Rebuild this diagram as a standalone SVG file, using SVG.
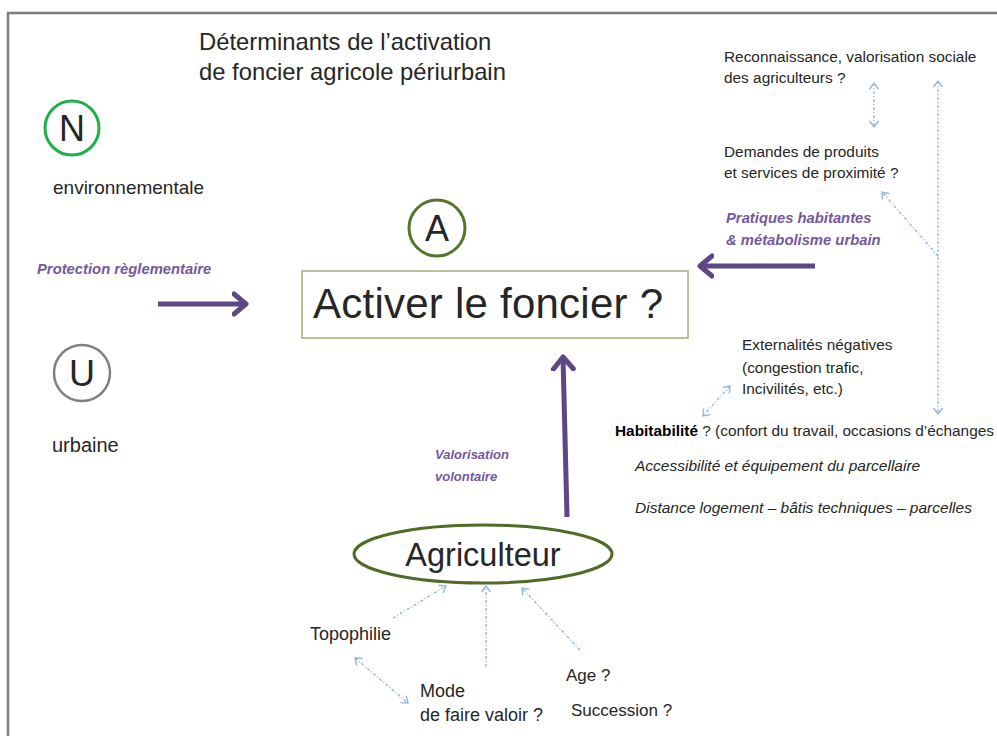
<svg xmlns="http://www.w3.org/2000/svg" width="997" height="736" viewBox="0 0 997 736">
<defs>
<style>
text{font-family:"Liberation Sans",Arial,sans-serif;fill:#262626}
.r{font-size:15.4px}
.b{font-size:18px}
.pur{fill:#7458a0;font-weight:bold;font-style:italic;font-size:14.8px}
.it{font-style:italic;font-size:15.5px}
.big{stroke:#5e4687;stroke-width:5;fill:none}
.dot{stroke:#8fb2e0;stroke-width:1.3;fill:none;stroke-dasharray:3 2 1 2}
</style>
<marker id="ph" markerUnits="userSpaceOnUse" markerWidth="30" markerHeight="30" refX="14" refY="12" orient="auto" viewBox="0 0 30 24">
<path d="M2 2 L14 12 L2 22" fill="none" stroke="#5e4687" stroke-width="5" stroke-linecap="round" stroke-linejoin="round"/>
</marker>
<marker id="bh" markerUnits="userSpaceOnUse" markerWidth="12" markerHeight="12" refX="8" refY="6" orient="auto-start-reverse" viewBox="0 0 12 12">
<path d="M2 1.5 L8 6 L2 10.5" fill="none" stroke="#8fb2e0" stroke-width="1.3"/>
</marker>
</defs>
<rect width="997" height="736" fill="#fff"/>
<path d="M8 736 V13 H997" fill="none" stroke="#7f7f7f" stroke-width="2.5"/>

<g id="title">
<text x="199" y="50" style="font-size:23.8px">Déterminants de l’activation</text>
<text x="199" y="80" style="font-size:23.8px">de foncier agricole périurbain</text>
</g>

<g id="connectors">
<line class="big" x1="158" y1="304" x2="246" y2="304" marker-end="url(#ph)"/>
<line class="big" x1="815" y1="266" x2="700" y2="266" marker-end="url(#ph)"/>
<line class="big" x1="567" y1="517" x2="563" y2="357" marker-end="url(#ph)"/>
<line class="dot" x1="393" y1="618" x2="446" y2="586" marker-end="url(#bh)"/>
<line class="dot" x1="486" y1="667" x2="486" y2="586" marker-end="url(#bh)"/>
<line class="dot" x1="580" y1="650" x2="522" y2="588" marker-end="url(#bh)"/>
<line class="dot" x1="355" y1="658" x2="408" y2="703" marker-start="url(#bh)" marker-end="url(#bh)"/>
<line class="dot" x1="874" y1="83" x2="874" y2="127" marker-start="url(#bh)" marker-end="url(#bh)"/>
<line class="dot" x1="938" y1="81" x2="938" y2="414" marker-start="url(#bh)" marker-end="url(#bh)"/>
<line class="dot" x1="938" y1="256" x2="882" y2="192" marker-end="url(#bh)"/>
<line class="dot" x1="730" y1="386" x2="703" y2="416" marker-start="url(#bh)" marker-end="url(#bh)"/>
</g>

<g id="node-N">
<circle cx="72" cy="128" r="27" fill="none" stroke="#21b14b" stroke-width="3"/>
<text x="72" y="141" text-anchor="middle" style="font-size:36px" fill="#000">N</text>
</g>
<g id="label-env"><text x="53" y="194" style="font-size:19px">environnementale</text></g>

<g id="node-A">
<circle cx="437" cy="228" r="28" fill="none" stroke="#56752b" stroke-width="3"/>
<text x="437" y="241" text-anchor="middle" style="font-size:36px" fill="#000">A</text>
</g>

<g id="node-U">
<circle cx="82" cy="373" r="28" fill="none" stroke="#808080" stroke-width="2.5"/>
<text x="82" y="386" text-anchor="middle" style="font-size:36px" fill="#000">U</text>
</g>
<g id="label-urb"><text x="52" y="452" style="font-size:20px">urbaine</text></g>

<g id="label-protection"><text class="pur" x="37" y="274">Protection  règlementaire</text></g>

<g id="node-activer">
<rect x="302" y="271" width="386" height="67" fill="#fff" stroke="#9fae78" stroke-width="1.5"/>
<text x="313" y="318" style="font-size:42px" fill="#000" textLength="350">Activer le foncier ?</text>
</g>

<g id="label-valorisation">
<text class="pur" x="435" y="459" style="font-size:13px">Valorisation</text>
<text class="pur" x="435" y="481" style="font-size:13px">volontaire</text>
</g>

<g id="node-agriculteur">
<ellipse cx="483" cy="554" rx="129" ry="29" fill="none" stroke="#4f6b26" stroke-width="3"/>
<text x="483" y="566" text-anchor="middle" style="font-size:32.5px" fill="#000">Agriculteur</text>
</g>

<g id="node-topophilie"><text class="b" x="310" y="640">Topophilie</text></g>
<g id="node-mode">
<text class="b" x="420" y="697">Mode</text>
<text class="b" x="420" y="721">de faire valoir ?</text>
</g>
<g id="node-age"><text class="b" x="566" y="681" style="font-size:17px">Age ?</text></g>
<g id="node-succession"><text class="b" x="571" y="716" style="font-size:17px">Succession ?</text></g>

<g id="node-reconnaissance">
<text class="r" x="724" y="62">Reconnaissance,  valorisation sociale</text>
<text class="r" x="724" y="83">des agriculteurs ?</text>
</g>
<g id="node-demandes">
<text class="r" x="724" y="157">Demandes de produits</text>
<text class="r" x="724" y="178">et services de proximité ?</text>
</g>
<g id="label-pratiques">
<text class="pur" x="726" y="223">Pratiques  habitantes</text>
<text class="pur" x="726" y="245">&amp; métabolisme  urbain</text>
</g>
<g id="node-externalites">
<text class="r" x="742" y="350">Externalités  négatives</text>
<text class="r" x="742" y="373">(congestion trafic,</text>
<text class="r" x="742" y="394">Incivilités, etc.)</text>
</g>
<g id="node-habitabilite">
<text class="r" x="615" y="436"><tspan font-weight="bold" fill="#000">Habitabilité</tspan>  ? (confort du travail, occasions d’échanges</text>
<text class="it" x="635" y="471">Accessibilité et équipement du parcellaire</text>
<text class="it" x="635" y="513">Distance logement – bâtis techniques – parcelles</text>
</g>
</svg>
